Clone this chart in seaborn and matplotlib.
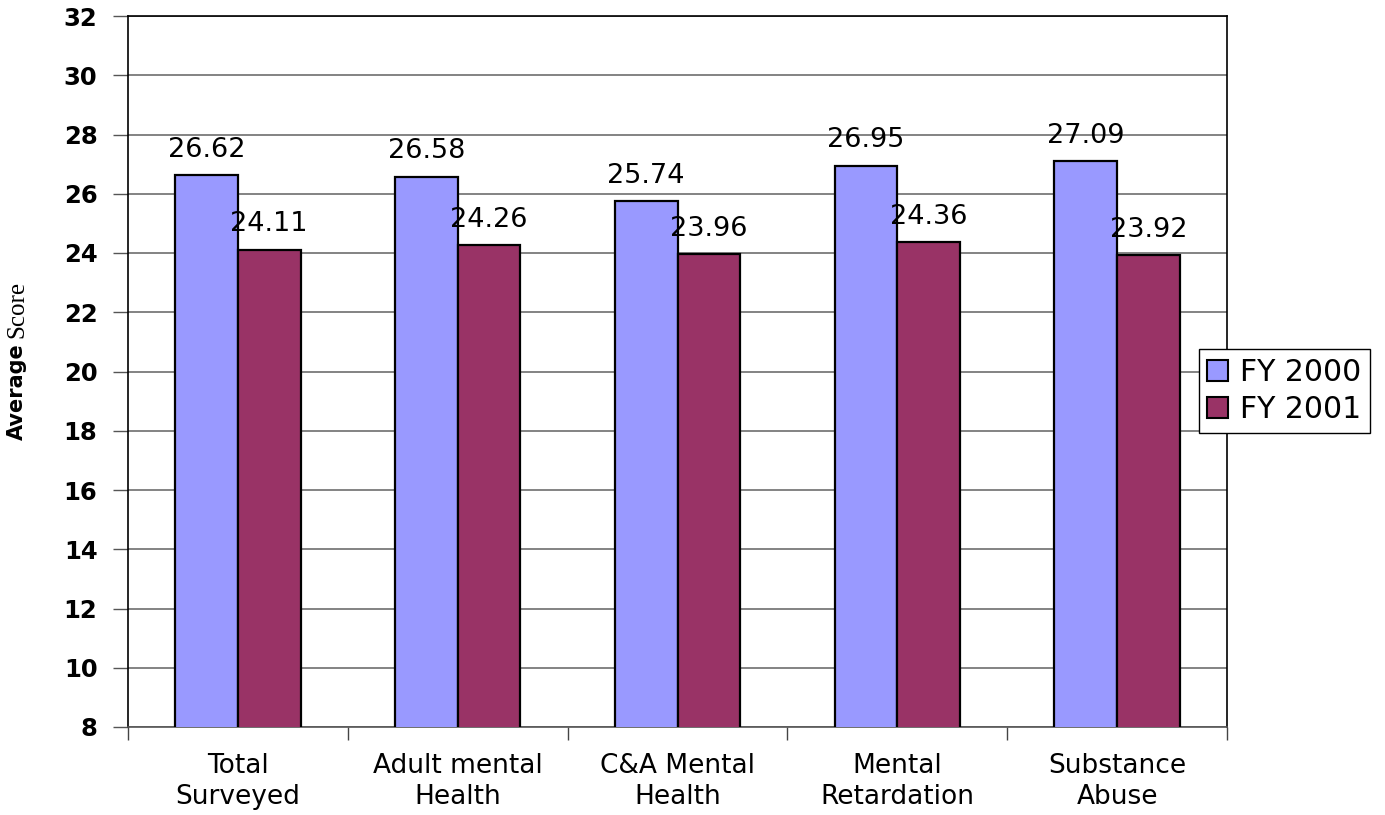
import matplotlib
matplotlib.use("Agg")
import matplotlib.pyplot as plt
import seaborn as sns
import pandas as pd
import numpy as np

categories = ["Total\nSurveyed", "Adult mental\nHealth", "C&A Mental\nHealth",
              "Mental\nRetardation", "Substance\nAbuse"]
series_names = ["FY 2000", "FY 2001"]
fy2000 = [26.62, 26.58, 25.74, 26.95, 27.09]
fy2001 = [24.11, 24.26, 23.96, 24.36, 23.92]
y_ticks = [8, 10, 12, 14, 16, 18, 20, 22, 24, 26, 28, 30, 32]
colors = ["#9999FF", "#993366"]

df = pd.DataFrame({
    "category": categories * 2,
    "series": [series_names[0]] * len(categories) + [series_names[1]] * len(categories),
    "value": fy2000 + fy2001,
})

sns.set_theme(style="white")
plt.rcParams["font.family"] = ["DejaVu Sans"]
plt.rcParams["text.color"] = "black"
plt.rcParams["xtick.color"] = "black"
plt.rcParams["ytick.color"] = "black"
plt.rcParams["xtick.labelcolor"] = "black"
plt.rcParams["ytick.labelcolor"] = "black"

fig = plt.figure(figsize=(13.85, 8.15), dpi=100)
ax = fig.add_axes([128 / 1385, 1 - 727 / 815, (1227 - 128) / 1385, (727 - 16) / 815])

sns.barplot(data=df, x="category", y="value", hue="series", order=categories,
            hue_order=series_names, palette=colors, width=0.57, dodge=True,
            edgecolor="black", linewidth=1.6, saturation=1, ax=ax, legend=False,
            zorder=3)

ax.set_ylim(8, 32)
ax.set_xlim(-0.5, len(categories) - 0.5)
ax.set_yticks(y_ticks)
ax.set_yticklabels([str(t) for t in y_ticks], fontsize=17.5, fontweight="bold",
                   color="black")
ax.yaxis.grid(True, color="#6e6e6e", linewidth=1.2, zorder=0)
ax.set_axisbelow(True)
ax.tick_params(axis="y", length=11, width=1, color="#555555", pad=11, left=True)
ax.tick_params(axis="x", which="major", length=0, pad=19, labelsize=19,
               labelcolor="black")
ax.set_xticks(np.arange(-0.5, len(categories)), minor=True)
ax.tick_params(axis="x", which="minor", length=9, width=1, color="#444444", bottom=True)
for lbl in ax.get_xticklabels():
    lbl.set_linespacing(1.25)
ax.set_xlabel("")
ax.set_ylabel("")

for side in ["left", "right", "top", "bottom"]:
    ax.spines[side].set_visible(True)
    ax.spines[side].set_color("black")
    ax.spines[side].set_linewidth(1.2)
ax.spines["bottom"].set_color("#555555")

vals = [fy2000, fy2001]
for cont, v in zip(ax.containers, vals):
    ax.bar_label(cont, labels=[f"{x:.2f}" for x in v], padding=9, fontsize=19.5,
                 color="black", zorder=5)

handles = [plt.Rectangle((0, 0), 1, 1, facecolor=c, edgecolor="black", linewidth=1.5)
           for c in colors]
leg = ax.legend(handles, series_names, loc="center left",
                bbox_to_anchor=((1199 - 128) / 1099, (727 - 391) / 711),
                fontsize=21.5, frameon=True, fancybox=False, framealpha=1,
                edgecolor="black", handlelength=0.7, handleheight=0.7,
                handletextpad=0.4, borderpad=0.28, labelspacing=0.28,
                borderaxespad=0)
leg.get_frame().set_linewidth(1.0)
leg.set_zorder(10)

# y-axis label: bold sans "Average" + serif "Score"
t1 = fig.text(17 / 1385, 1 - 440 / 815, "Average", rotation=90, fontsize=15,
              fontweight="bold", family="DejaVu Sans", ha="center", va="bottom")
fig.canvas.draw()
bb = t1.get_window_extent(fig.canvas.get_renderer())
fig.text(17 / 1385, (bb.y1 + 5) / 815, "Score", rotation=90, fontsize=18,
         family="Liberation Serif", ha="center", va="bottom")

fig.savefig("out.png", dpi=100)
